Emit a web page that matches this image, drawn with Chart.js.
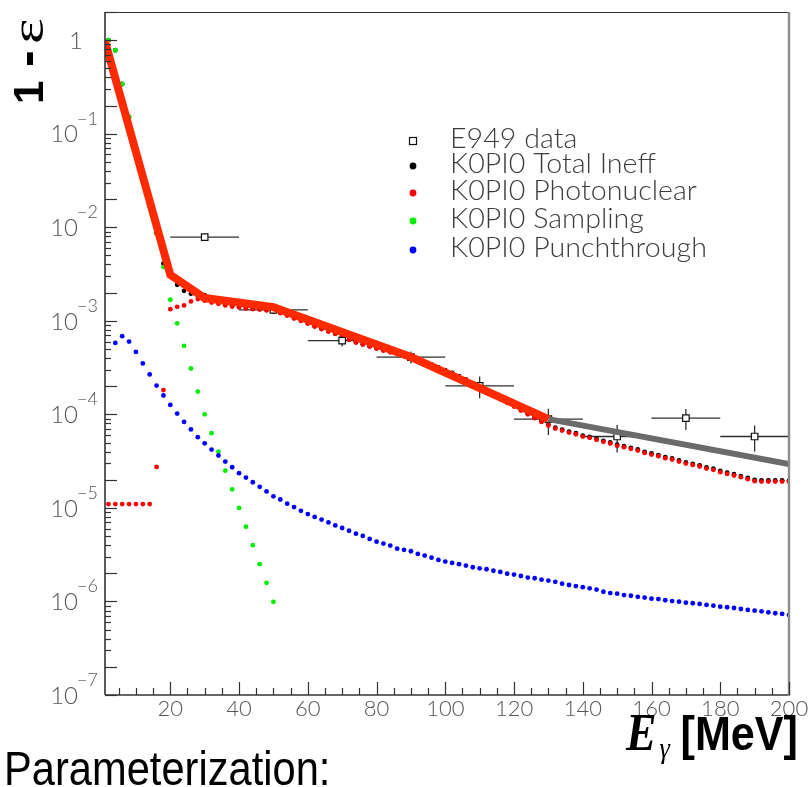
<!DOCTYPE html>
<html>
<head>
<meta charset="utf-8">
<title>Photon veto inefficiency</title>
<script src="https://cdn.jsdelivr.net/npm/chart.js@4.4.1/dist/chart.umd.min.js"></script>
<style>
  html, body { margin: 0; padding: 0; background: #fff; }
  #wrap { width: 811px; height: 787px; }
</style>
</head>
<body>
<div id="wrap"><canvas id="ineff-chart" width="811" height="787"></canvas></div>
<script>
// ── Data ───────────────────────────────────────────────────────────────────
// 2 MeV bins of the simulated photon energy
const energy = [
    2,   4,   6,   8,  10,  12,  14,  16,  18,  20,
   22,  24,  26,  28,  30,  32,  34,  36,  38,  40,
   42,  44,  46,  48,  50,  52,  54,  56,  58,  60,
   62,  64,  66,  68,  70,  72,  74,  76,  78,  80,
   82,  84,  86,  88,  90,  92,  94,  96,  98, 100,
  102, 104, 106, 108, 110, 112, 114, 116, 118, 120,
  122, 124, 126, 128, 130, 132, 134, 136, 138, 140,
  142, 144, 146, 148, 150, 152, 154, 156, 158, 160,
  162, 164, 166, 168, 170, 172, 174, 176, 178, 180,
  182, 184, 186, 188, 190, 192, 194, 196, 198, 200,
];

const totalIneff = [
  1.0, 0.78, 0.34, 0.151, 0.07, 0.035, 0.017, 8.7e-3, 4.1e-3, 3.1e-3,
  2.43e-3, 2.09e-3, 1.95e-3, 1.9e-3, 1.88e-3, 1.68e-3, 1.6e-3, 1.52e-3, 1.46e-3, 1.42e-3,
  1.38e-3, 1.35e-3, 1.34e-3, 1.31e-3, 1.27e-3, 1.22e-3, 1.15e-3, 1.07e-3, 1.01e-3, 9.45e-4,
  8.77e-4, 8.22e-4, 7.76e-4, 7.32e-4, 6.85e-4, 6.32e-4, 5.91e-4, 5.63e-4, 5.36e-4, 5.1e-4,
  4.85e-4, 4.7e-4, 4.5e-4, 4.3e-4, 4.1e-4, 3.87e-4, 3.64e-4, 3.4e-4, 3.18e-4, 2.97e-4,
  2.77e-4, 2.56e-4, 2.36e-4, 2.15e-4, 1.97e-4, 1.79e-4, 1.64e-4, 1.5e-4, 1.36e-4, 1.24e-4,
  1.13e-4, 1.03e-4, 9.3e-5, 8.5e-5, 7.8e-5, 7.2e-5, 6.87e-5, 6.55e-5, 6.28e-5, 5.93e-5,
  5.75e-5, 5.47e-5, 5.21e-5, 5.0e-5, 4.73e-5, 4.57e-5, 4.39e-5, 4.21e-5, 3.97e-5, 3.82e-5,
  3.67e-5, 3.49e-5, 3.38e-5, 3.22e-5, 3.06e-5, 2.96e-5, 2.85e-5, 2.71e-5, 2.62e-5, 2.48e-5,
  2.38e-5, 2.29e-5, 2.19e-5, 2.09e-5, 1.99e-5, 1.97e-5, 1.97e-5, 1.97e-5, 1.97e-5, 1.96e-5,
];

const photonuclear = [
  1.1e-5, 1.1e-5, 1.1e-5, 1.1e-5, 1.1e-5, 1.1e-5, 1.1e-5, 2.74e-5, 1.82e-4, 1.33e-3,
  1.41e-3, 1.46e-3, 1.61e-3, 1.71e-3, 1.64e-3, 1.57e-3, 1.52e-3, 1.46e-3, 1.42e-3, 1.39e-3,
  1.35e-3, 1.33e-3, 1.32e-3, 1.29e-3, 1.25e-3, 1.21e-3, 1.14e-3, 1.06e-3, 1.0e-3, 9.35e-4,
  8.69e-4, 8.15e-4, 7.69e-4, 7.26e-4, 6.79e-4, 6.26e-4, 5.86e-4, 5.58e-4, 5.31e-4, 5.06e-4,
  4.81e-4, 4.6e-4, 4.4e-4, 4.2e-4, 4.0e-4, 3.78e-4, 3.55e-4, 3.32e-4, 3.1e-4, 2.9e-4,
  2.7e-4, 2.5e-4, 2.3e-4, 2.1e-4, 1.92e-4, 1.75e-4, 1.6e-4, 1.46e-4, 1.33e-4, 1.21e-4,
  1.1e-4, 1.0e-4, 9.1e-5, 8.3e-5, 7.6e-5, 7.05e-5, 6.71e-5, 6.39e-5, 6.13e-5, 5.79e-5,
  5.61e-5, 5.34e-5, 5.08e-5, 4.88e-5, 4.61e-5, 4.46e-5, 4.28e-5, 4.1e-5, 3.87e-5, 3.72e-5,
  3.57e-5, 3.4e-5, 3.29e-5, 3.13e-5, 2.98e-5, 2.88e-5, 2.77e-5, 2.63e-5, 2.55e-5, 2.41e-5,
  2.31e-5, 2.22e-5, 2.13e-5, 2.03e-5, 1.93e-5, 1.91e-5, 1.91e-5, 1.91e-5, 1.91e-5, 1.91e-5,
];

// sampling only reaches down to 1e-6 by 50 MeV
const sampling = [
  1.0, 0.78, 0.34, 0.151, 0.07, 0.035, 0.017, 8.5e-3, 3.75e-3, 1.68e-3,
  9.4e-4, 5.4e-4, 3.09e-4, 1.75e-4, 1.0e-4, 6.3e-5, 4.0e-5, 2.5e-5, 1.58e-5, 1.0e-5,
  6.3e-6, 4.0e-6, 2.5e-6, 1.58e-6, 9.9e-7,
];

const punchthrough = [
  null, 5.8e-4, 6.85e-4, 6.0e-4, 4.65e-4, 3.5e-4, 2.67e-4, 2.03e-4, 1.59e-4, 1.26e-4,
  1.02e-4, 8.3e-5, 6.9e-5, 5.7e-5, 4.9e-5, 4.2e-5, 3.63e-5, 3.13e-5, 2.72e-5, 2.35e-5,
  2.11e-5, 1.88e-5, 1.68e-5, 1.5e-5, 1.33e-5, 1.23e-5, 1.11e-5, 1.02e-5, 9.3e-6, 8.6e-6,
  8.0e-6, 7.5e-6, 7.0e-6, 6.5e-6, 6.1e-6, 5.7e-6, 5.3e-6, 5.02e-6, 4.66e-6, 4.36e-6,
  4.16e-6, 3.96e-6, 3.67e-6, 3.56e-6, 3.44e-6, 3.22e-6, 3.09e-6, 2.94e-6, 2.78e-6, 2.67e-6,
  2.58e-6, 2.5e-6, 2.42e-6, 2.32e-6, 2.26e-6, 2.21e-6, 2.13e-6, 2.07e-6, 1.98e-6, 1.94e-6,
  1.87e-6, 1.8e-6, 1.77e-6, 1.71e-6, 1.67e-6, 1.62e-6, 1.55e-6, 1.5e-6, 1.46e-6, 1.42e-6,
  1.38e-6, 1.34e-6, 1.27e-6, 1.23e-6, 1.21e-6, 1.17e-6, 1.15e-6, 1.12e-6, 1.1e-6, 1.07e-6,
  1.06e-6, 1.03e-6, 1.01e-6, 9.95e-7, 9.7e-7, 9.57e-7, 9.4e-7, 9.18e-7, 9.02e-7, 8.8e-7,
  8.67e-7, 8.51e-7, 8.3e-7, 8.11e-7, 7.97e-7, 7.85e-7, 7.66e-7, 7.48e-7, 7.35e-7, 7.17e-7,
];

// E949 measurement, 20 MeV wide bins
const e949Energy    = [30, 50, 70, 90, 110, 130, 150, 170, 190];
const e949EnergyErr = [10, 10, 10, 10, 10, 10, 10, 10, 10];
const e949Value     = [7.85e-3, 1.31e-3, 6.15e-4, 4.09e-4, 2.02e-4, 8.9e-5, 5.8e-5, 9.1e-5, 5.8e-5];
const e949Upper     = [8.2e-3, 1.38e-3, 6.9e-4, 4.7e-4, 2.54e-4, 1.15e-4, 7.7e-5, 1.14e-4, 7.6e-5];
const e949Lower     = [7.5e-3, 1.24e-3, 5.3e-4, 3.5e-4, 1.49e-4, 6.0e-5, 3.9e-5, 6.8e-5, 4.0e-5];

// parameterization: fitted segment and the extrapolated tail
const paramEnergy = [1, 20, 30, 50, 90, 130];
const paramValue  = [0.97, 3.1e-3, 1.75e-3, 1.4e-3, 4.1e-4, 8.9e-5];
const tailEnergy  = [130, 200];
const tailValue   = [8.9e-5, 2.95e-5];

// axes
const xTickLabels   = [20, 40, 60, 80, 100, 120, 140, 160, 180, 200];
const yTickExponent = [0, -1, -2, -3, -4, -5, -6, -7];

const legendLabels = [
  "E949 data",
  "K0PI0 Total Ineff",
  "K0PI0 Photonuclear",
  "K0PI0 Sampling",
  "K0PI0 Punchthrough",
];

// ── Helpers ────────────────────────────────────────────────────────────────
const X_MIN = 1, X_MAX = 200, Y_MIN = 1e-7, Y_MAX = 2;
const LABEL_FONT = "Lato, 'DejaVu Sans', sans-serif";
const INK = "#3c3c3c";

function toPoints(xs, ys) {
  return ys.map((y, i) => ({ x: xs[i], y })).filter((p) => p.y != null);
}

function dots(label, values, color, order) {
  return {
    label,
    data: toPoints(energy, values),
    showLine: false,
    pointRadius: 2.4,
    pointBackgroundColor: color,
    pointBorderWidth: 0,
    order,
  };
}

function hline(ctx, x1, x2, y) {
  ctx.beginPath(); ctx.moveTo(x1, y); ctx.lineTo(x2, y); ctx.stroke();
}
function vline(ctx, x, y1, y2) {
  ctx.beginPath(); ctx.moveTo(x, y1); ctx.lineTo(x, y2); ctx.stroke();
}

// ── Error bars (under the markers) ─────────────────────────────────────────
const errorBars = {
  id: "errorBars",
  beforeDatasetsDraw(chart) {
    const { ctx, scales: { x, y } } = chart;
    ctx.save();
    ctx.strokeStyle = "#2e2e2e";
    ctx.lineWidth = 1.3;
    e949Energy.forEach((e, i) => {
      const py = y.getPixelForValue(e949Value[i]);
      const px = x.getPixelForValue(e);
      hline(ctx, x.getPixelForValue(e - e949EnergyErr[i]), x.getPixelForValue(e + e949EnergyErr[i]), py);
      vline(ctx, px, y.getPixelForValue(e949Upper[i]), y.getPixelForValue(e949Lower[i]));
    });
    ctx.restore();
  },
};

// ── Frame, ticks, labels, legend ───────────────────────────────────────────
const rootFrame = {
  id: "rootFrame",
  afterDatasetsDraw(chart) {
    const { ctx, chartArea: { left, right, top, bottom }, scales: { x, y } } = chart;
    ctx.save();

    // frame
    ctx.strokeStyle = "#333";
    ctx.lineWidth = 1;
    hline(ctx, left, right, top + 0.5);
    ctx.lineWidth = 1.6;
    vline(ctx, left, top, bottom);
    hline(ctx, left, right, bottom);
    ctx.strokeStyle = "#8c8c8c";
    ctx.lineWidth = 2.4;
    vline(ctx, right, top, bottom + 1);

    // y ticks: long at 1x and 2x each decade
    ctx.strokeStyle = "#333";
    ctx.lineWidth = 1.2;
    for (let e = -7; e <= 0; e++) {
      for (let m = 1; m <= 9; m++) {
        const v = m * Math.pow(10, e);
        if (v > Y_MAX) break;
        const py = Math.round(y.getPixelForValue(v)) + 0.5;
        hline(ctx, left, left + (m <= 2 ? 12 : 6), py);
      }
    }
    // x ticks every 5 MeV
    for (let v = 5; v <= X_MAX; v += 5) {
      const px = Math.round(x.getPixelForValue(v)) + 0.5;
      vline(ctx, px, bottom, bottom - (v % 20 === 0 ? 13 : 7));
    }

    // tick labels
    ctx.fillStyle = "#555";
    ctx.textBaseline = "middle";
    ctx.textAlign = "center";
    ctx.font = `300 22px ${LABEL_FONT}`;
    xTickLabels.forEach((v) => ctx.fillText(String(v), x.getPixelForValue(v), bottom + 14));

    yTickExponent.forEach((e) => {
      const py = y.getPixelForValue(Math.pow(10, e));
      ctx.font = `300 24px ${LABEL_FONT}`;
      ctx.textAlign = "right";
      ctx.textBaseline = "middle";
      if (e === 0) {
        ctx.fillText("1", left - 22, py + 1);
        return;
      }
      ctx.fillText("10", left - 27, py + 1);
      ctx.font = `300 18px ${LABEL_FONT}`;
      ctx.textAlign = "left";
      ctx.textBaseline = "alphabetic";
      ctx.fillText("\u2212" + (-e), left - 28, py - 9);
    });

    // legend
    const legendX = 413, textX = 450;
    const legendY = [141, 166, 193, 221, 250];
    const legendColor = [null, "#000", "#ff0000", "#00ee00", "#0000ff"];
    ctx.font = `300 27px ${LABEL_FONT}`;
    ctx.textAlign = "left";
    ctx.textBaseline = "middle";
    legendLabels.forEach((label, i) => {
      const ly = legendY[i];
      if (i === 0) {
        ctx.strokeStyle = "#111";
        ctx.lineWidth = 1.2;
        ctx.strokeRect(legendX - 3.5, ly - 3.5, 7, 7);
      } else {
        ctx.fillStyle = legendColor[i];
        ctx.beginPath();
        ctx.arc(legendX, ly, 3.4, 0, Math.PI * 2);
        ctx.fill();
      }
      ctx.fillStyle = INK;
      ctx.save();
      ctx.translate(textX, ly - 2);
      ctx.scale(1.06, 1);
      ctx.fillText(label, 0, 0);
      ctx.restore();
    });

    ctx.restore();
  },

  afterDraw(chart) {
    const { ctx } = chart;
    ctx.save();
    ctx.fillStyle = "#000";
    ctx.textBaseline = "alphabetic";
    ctx.textAlign = "left";

    // y title, running upwards
    ctx.save();
    ctx.translate(43, 101);
    ctx.rotate(-Math.PI / 2);
    ctx.font = "bold 42px 'Liberation Sans', Arial, sans-serif";
    ctx.fillText("1", -3, 0);
    ctx.font = "bold 50px 'Liberation Sans', Arial, sans-serif";
    ctx.fillText("-", 34, 0);
    ctx.save();
    ctx.translate(57, 0);
    ctx.scale(1.3, 1);
    ctx.font = "47px 'Liberation Serif', serif";
    ctx.fillText("\u03b5", 0, 0);
    ctx.restore();
    ctx.restore();

    // x title
    ctx.save();
    ctx.translate(626, 750);
    ctx.scale(0.88, 1);
    ctx.font = "italic bold 52px 'Liberation Serif', serif";
    ctx.fillText("E", 0, 0);
    ctx.font = "italic 30px 'Liberation Serif', serif";
    ctx.fillText("\u03b3", 38, 8);
    ctx.font = "bold 49px 'Liberation Sans', Arial, sans-serif";
    ctx.fillText("[MeV]", 62, 0);
    ctx.restore();

    // caption below the plot
    ctx.save();
    ctx.translate(4, 785);
    ctx.scale(0.85, 1);
    ctx.font = "49px 'Liberation Sans', Arial, sans-serif";
    ctx.fillText("Parameterization:", 0, 0);
    ctx.restore();

    ctx.restore();
  },
};

// ── Chart ──────────────────────────────────────────────────────────────────
const ctx = document.getElementById("ineff-chart").getContext("2d");
new Chart(ctx, {
  type: "scatter",
  data: {
    datasets: [
      {
        label: "Parameterization",
        data: toPoints(paramEnergy, paramValue),
        showLine: true,
        borderColor: "#ff2a00",
        borderWidth: 8,
        pointRadius: 0,
        order: 0,
      },
      {
        label: "Extrapolation",
        data: toPoints(tailEnergy, tailValue),
        showLine: true,
        borderColor: "#6b6b6b",
        borderWidth: 6,
        pointRadius: 0,
        order: 1,
      },
      {
        label: legendLabels[0],
        data: toPoints(e949Energy, e949Value),
        showLine: false,
        pointStyle: "rect",
        pointRadius: 4.6,
        pointBackgroundColor: "#fff",
        pointBorderColor: "#111",
        pointBorderWidth: 1.2,
        order: 2,
      },
      dots(legendLabels[4], punchthrough, "#0000ff", 3),
      dots(legendLabels[3], sampling,     "#00ee00", 4),
      dots(legendLabels[2], photonuclear, "#ff0000", 5),
      dots(legendLabels[1], totalIneff,   "#000000", 6),
    ],
  },
  options: {
    responsive: false,
    animation: false,
    devicePixelRatio: 1,
    layout: { padding: { left: 105, right: 22, top: 12, bottom: 92 } },
    plugins: { legend: { display: false }, tooltip: { enabled: false } },
    scales: {
      x: { type: "linear", min: X_MIN, max: X_MAX, display: false },
      y: { type: "logarithmic", min: Y_MIN, max: Y_MAX, display: false },
    },
  },
  plugins: [errorBars, rootFrame],
});
</script>
</body>
</html>
